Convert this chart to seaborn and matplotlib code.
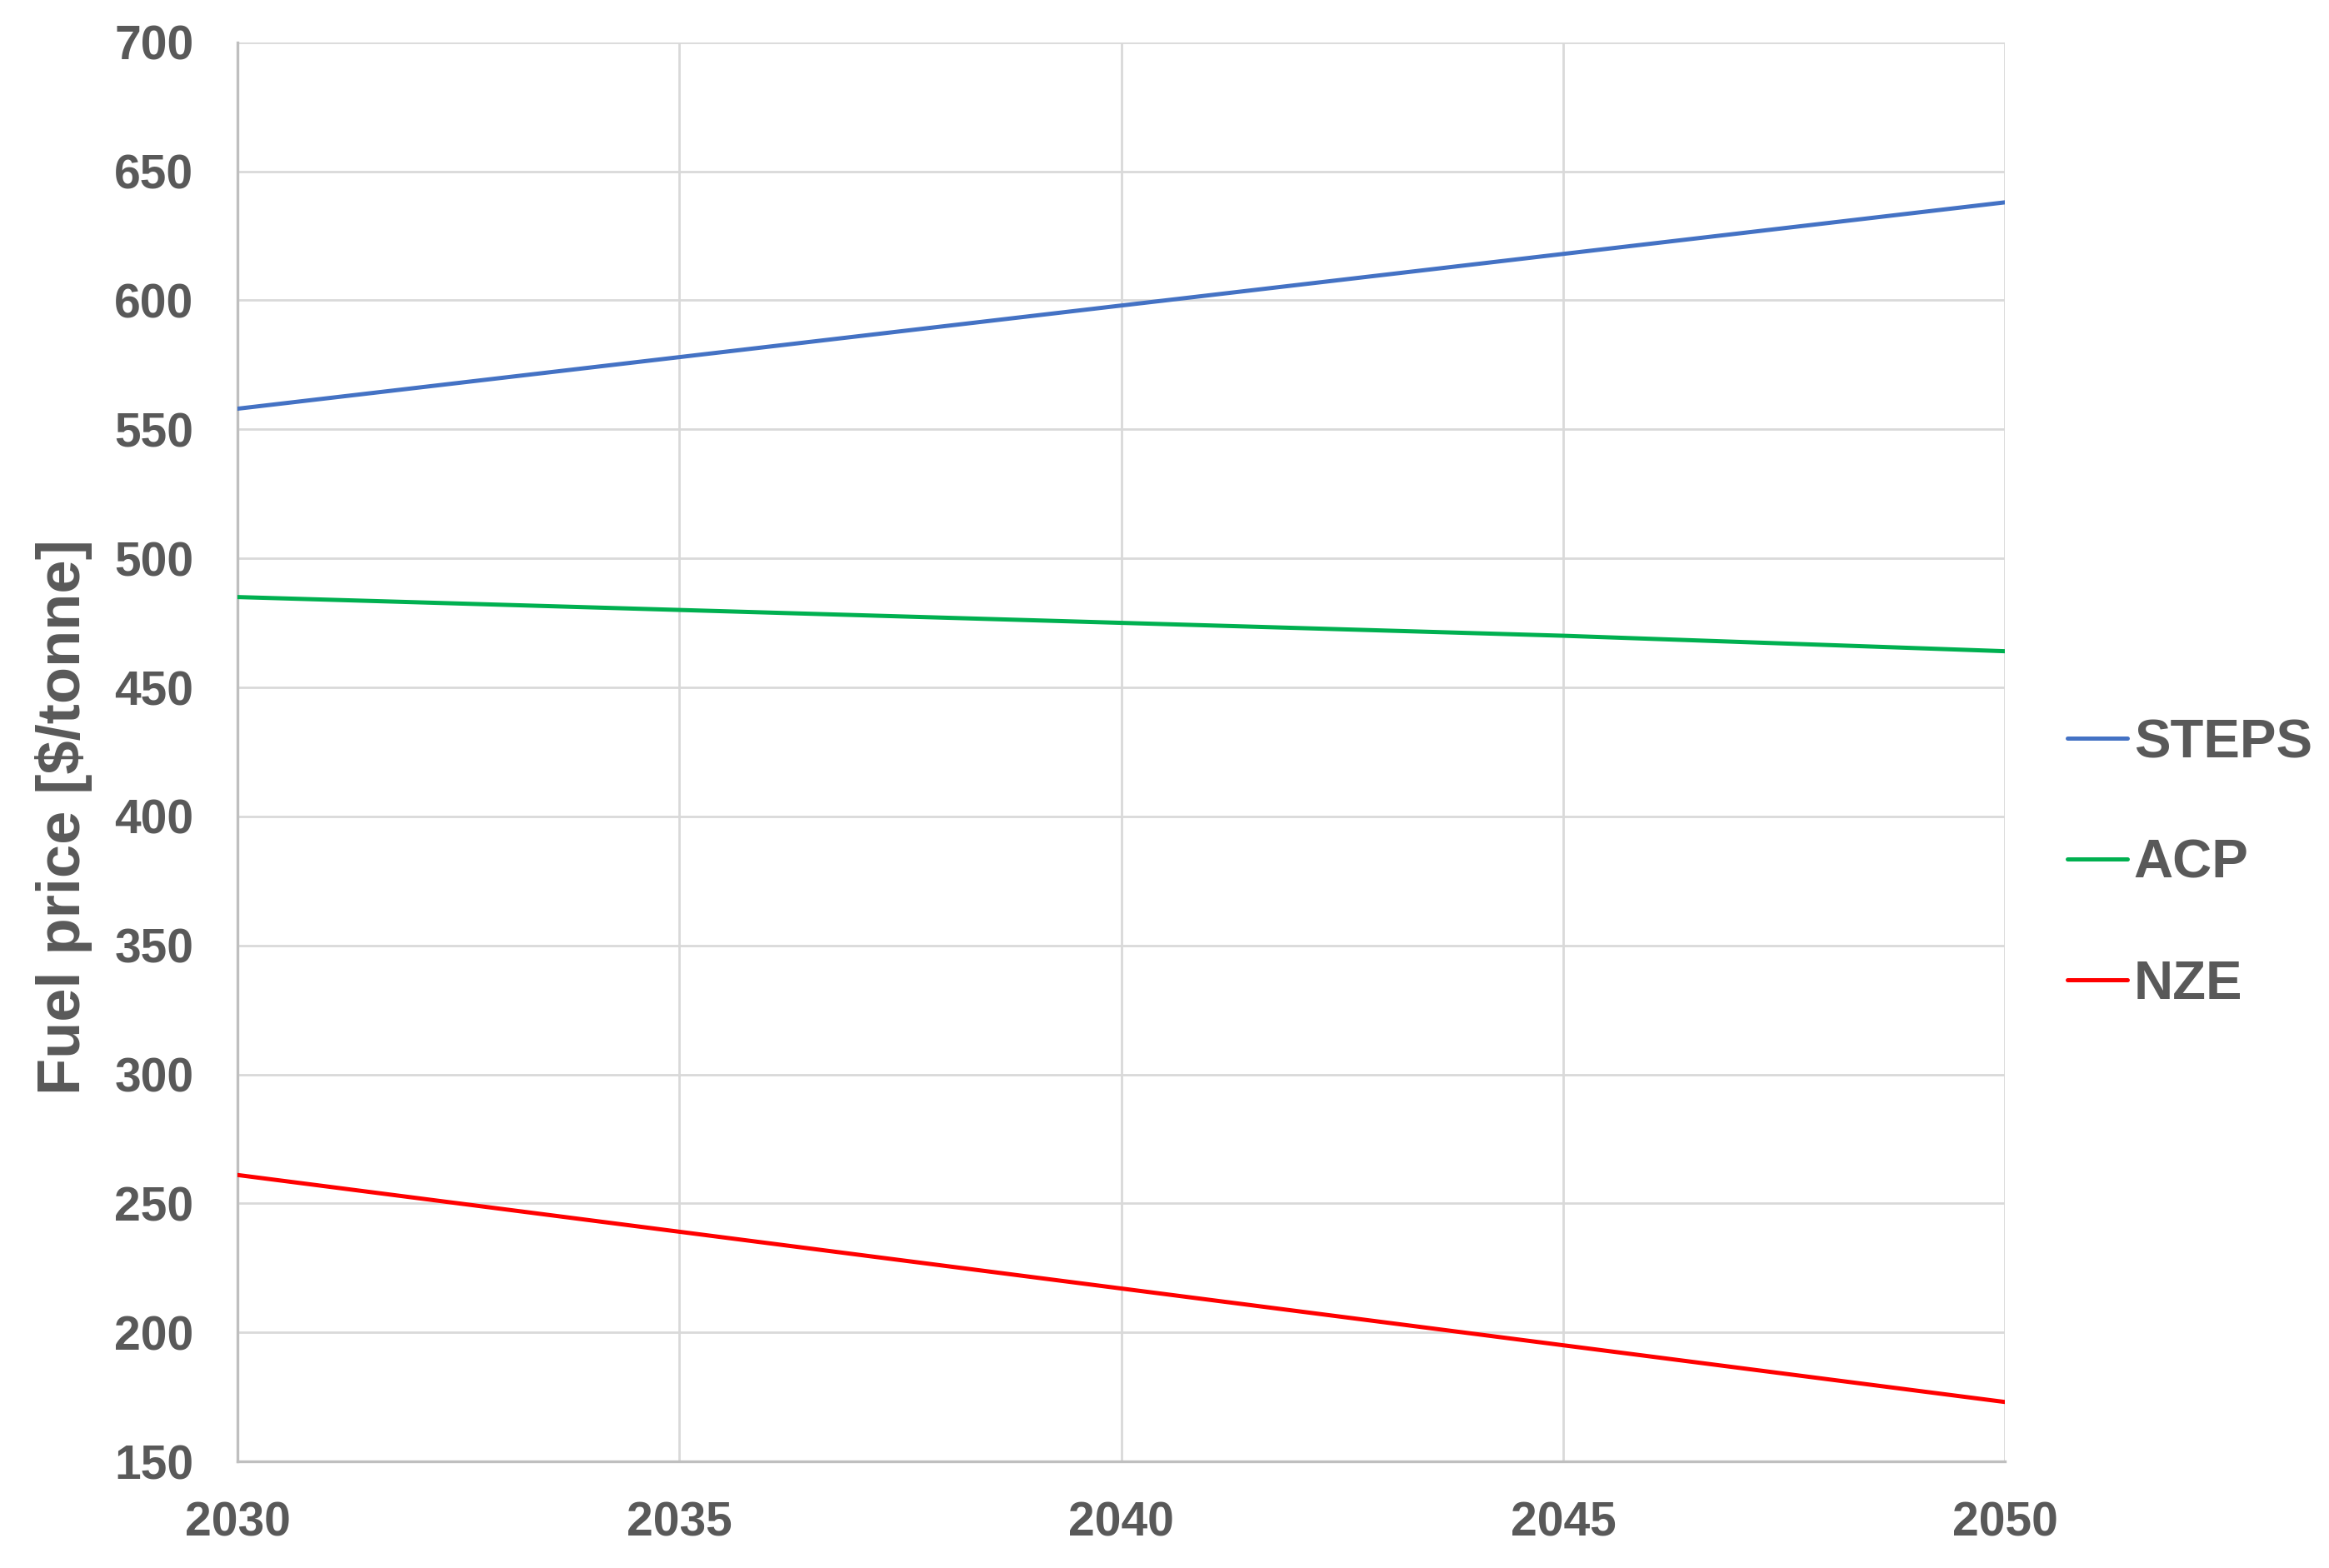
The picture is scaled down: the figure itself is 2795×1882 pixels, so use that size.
import matplotlib
matplotlib.use("Agg")
import matplotlib.pyplot as plt
import seaborn as sns
import pandas as pd

# values
years = [2030, 2035, 2040, 2045, 2050]
steps = [558, 578, 598, 618, 638]
acp = [485, 480, 475, 470, 464]
nze = [261, 239, 217, 195, 173]
scenarios = ["STEPS", "ACP", "NZE"]
colors = ["#4472C4", "#00B050", "#FF0000"]
y_ticks = list(range(150, 701, 50))

df = pd.DataFrame({
    "year": years * 3,
    "price": steps + acp + nze,
    "scenario": [s for s in scenarios for _ in years],
})

sns.set_style("white")
plt.rcParams["font.family"] = ["Liberation Sans", "DejaVu Sans"]
text_gray = "#595959"

fig = plt.figure(figsize=(13.975, 9.41), dpi=200)
ax = fig.add_axes([0.102, 0.068, 0.759, 0.905])

sns.lineplot(data=df, x="year", y="price", hue="scenario", hue_order=scenarios,
             palette=colors, linewidth=1.8, ax=ax, legend=False, zorder=3)

ax.set_xlim(2030, 2050)
ax.set_ylim(150, 700)
ax.set_xticks(years)
ax.set_yticks(y_ticks)
ax.grid(True, color="#d9d9d9", linewidth=1.0)
ax.set_axisbelow(True)

for side in ["top", "right"]:
    ax.spines[side].set_visible(False)
for side in ["left", "bottom"]:
    ax.spines[side].set_color("#bfbfbf")
    ax.spines[side].set_linewidth(1.2)

ax.tick_params(axis="both", length=0, labelsize=20.5, labelcolor=text_gray)
ax.tick_params(axis="x", pad=17)
ax.tick_params(axis="y", pad=19)
for lab in ax.get_xticklabels() + ax.get_yticklabels():
    lab.set_fontweight("bold")

ax.set_xlabel("")
ax.set_ylabel("Fuel price [$/tonne]", fontsize=26, fontweight="bold", color=text_gray)
ax.yaxis.set_label_coords(-0.082, 0.454)

handles = [plt.Line2D([], [], color=c, linewidth=1.8) for c in colors]
leg = fig.legend(handles, scenarios, loc="center left", bbox_to_anchor=(0.8877, 0.449),
                 frameon=False, borderpad=0, borderaxespad=0, handlelength=1.1,
                 handletextpad=0.12, labelspacing=1.3,
                 prop={"size": 23.5, "weight": "bold"})
for t in leg.get_texts():
    t.set_color(text_gray)

fig.savefig("out.png", dpi=200)
